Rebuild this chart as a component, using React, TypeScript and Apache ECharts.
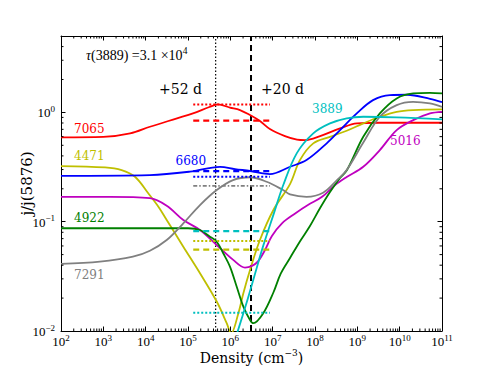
import React, { useEffect, useRef } from "react";
import * as echarts from "echarts";

// Axis ranges
const X_MIN = 1e2;
const X_MAX = 1e11;
const Y_MIN = 0.01;
const Y_MAX = 5;

// Model curves: [density (cm^-3), j/j(5876)]
const red7065: number[][] = [
  [1e2, 0.591], [1e3, 0.597], [4.3e3, 0.643], [1.26e4, 0.739], [5.5e4, 0.882],
  [1.31e5, 0.979], [3.2e5, 1.12], [5.1e5, 1.183], [9.8e5, 1.106], [1.69e6, 1.05], [2.92e6, 0.945],
  [5.0e6, 0.833], [8.6e6, 0.704], [1.95e7, 0.607], [3.76e7, 0.564], [5.8e7, 0.558],
  [1.32e8, 0.607], [3.9e8, 0.714], [9.8e8, 0.793], [3.4e9, 0.804], [1e11, 0.804],
];
const blue6680: number[][] = [
  [1e2, 0.263], [1.26e4, 0.267], [1.11e5, 0.287], [5.7e5, 0.318], [1.29e6, 0.303],
  [2.92e6, 0.291], [8.6e6, 0.273], [2.57e7, 0.318], [6.3e7, 0.366], [1.89e8, 0.521],
  [3.9e8, 0.689], [9.7e8, 0.979], [2.35e9, 1.295], [5.9e9, 1.44], [1.5e10, 1.45],
  [5.2e10, 1.33], [1e11, 1.24],
];
const grey7291: number[][] = [
  [1e2, 0.0411], [8.3e2, 0.0431], [5.0e3, 0.0479], [1.26e4, 0.0543], [3.14e4, 0.068],
  [7.75e4, 0.0967], [1.92e5, 0.142], [4.77e5, 0.195], [1.16e6, 0.2405], [2.92e6, 0.255],
  [7.2e6, 0.232], [1.76e7, 0.195], [2.57e7, 0.178], [6.3e7, 0.169], [1.55e8, 0.184],
  [3.3e8, 0.24], [5.6e8, 0.297], [1.36e9, 0.524], [3.4e9, 0.912], [8.5e9, 1.166],
  [2.07e10, 1.25], [5.2e10, 1.209], [1e11, 1.125],
];
const magenta5016: number[][] = [
  [1e2, 0.169], [1.45e3, 0.169], [1.26e4, 0.164], [3.14e4, 0.14], [7.75e4, 0.1036],
  [1.92e5, 0.0839], [4.77e5, 0.0612], [1.17e6, 0.0447], [2.22e6, 0.038], [3.25e6, 0.0394],
  [4.5e6, 0.0433], [6.6e6, 0.0551], [9.6e6, 0.074], [1.66e7, 0.0967], [3.4e7, 0.119],
  [6.8e7, 0.142], [1.47e8, 0.169], [2.97e8, 0.216], [5.6e8, 0.256], [1.38e9, 0.318],
  [3.4e9, 0.452], [8.5e9, 0.689], [2.09e10, 0.85], [5.2e10, 0.979], [1e11, 1.013],
];
const green4922: number[][] = [
  [1e2, 0.0871], [1e5, 0.0871], [1.92e5, 0.0839], [3.3e5, 0.0729], [4.77e5, 0.0656],
  [6.8e5, 0.0514], [9.8e5, 0.0388], [1.41e6, 0.0255], [2.03e6, 0.0167], [2.92e6, 0.01263],
  [3.49e6, 0.01178], [6.0e6, 0.01455], [1.04e7, 0.0225], [1.55e7, 0.0335], [2.57e7, 0.0466],
  [4.4e7, 0.066], [7.6e7, 0.0913], [1.32e8, 0.1334], [2.26e8, 0.1868], [3.9e8, 0.251],
  [5.7e8, 0.297], [1.38e9, 0.598], [3.4e9, 0.979], [8.5e9, 1.343], [2.09e10, 1.492],
  [5.2e10, 1.51], [1e11, 1.492],
];
const cyan3889: number[][] = [
  [1.1e6, 0.007], [1.55e6, 0.0104], [2.44e6, 0.0183], [3.49e6, 0.0295], [6.0e6, 0.0604],
  [1.04e7, 0.1155], [1.78e7, 0.2165], [3.7e7, 0.422], [9.1e7, 0.643], [2.26e8, 0.793],
  [5.6e8, 0.882], [1.38e9, 0.912], [8.5e9, 0.9], [1e11, 0.863],
];
const yellow4471: number[][] = [
  [1e2, 0.323], [1.1e3, 0.314], [2.7e3, 0.297], [5.6e3, 0.258], [1.15e4, 0.182],
  [2.0e4, 0.137], [3.14e4, 0.1036], [7.75e4, 0.0591], [1.92e5, 0.0338], [4.77e5, 0.0186],
  [8.2e5, 0.0118], [1.04e6, 0.0095], [1.55e6, 0.01455], [2.03e6, 0.0222], [2.92e6, 0.0362],
  [5.0e6, 0.068], [1.04e7, 0.128], [2.57e7, 0.221], [4.4e7, 0.366], [9.1e7, 0.521],
  [2.26e8, 0.598], [5.6e8, 0.679], [1.38e9, 0.793], [3.4e9, 0.912], [8.5e9, 1.013],
  [2.09e10, 1.05], [1e11, 1.065],
];

// Epoch markers (density) : +52 d dotted, +20 d dashed
const epoch52d = 4.5e5;
const epoch20d = 3.08e6;

// Observed ratio segments: density span and levels
const obsSpan = [1.33e5, 8.65e6];
const redObs = { dotted: 1.18, dashed: 0.84 };
const blueObs = { dotted: 0.258, dashed: 0.29 };
const greyObs = { dashdot: 0.213 };
const cyanObs = { dotted: 0.0147, dashed: 0.082 };
const yellowObs = { dotted: 0.0665, dashed: 0.0555 };

const C = {
  red: "#ff0000",
  blue: "#0000ff",
  green: "#008000",
  cyan: "#00bfbf",
  magenta: "#bf00bf",
  yellow: "#bfbf00",
  grey: "#808080",
};

const SERIF = '"DejaVu Serif", serif';
const TICKFONT = '"Liberation Serif", "DejaVu Serif", serif';

function minorTicks(lo: number, hi: number): number[] {
  const out: number[] = [];
  for (let e = Math.floor(Math.log10(lo)); e < Math.ceil(Math.log10(hi)); e++) {
    for (let m = 2; m <= 9; m++) {
      const v = m * Math.pow(10, e);
      if (v > lo && v < hi) out.push(v);
    }
  }
  return out;
}

const supRich = {
  b: { fontFamily: TICKFONT, fontSize: 13, lineHeight: 14, color: "#000", verticalAlign: "bottom" },
  s: { fontFamily: TICKFONT, fontSize: 9, lineHeight: 10, color: "#000", verticalAlign: "bottom", padding: [0, 0, 6, 0] },
};

function powLabel(v: number) {
  const e = Math.round(Math.log10(v));
  const es = e < 0 ? "\u2212" + Math.abs(e) : String(e);
  return "{b|10}{s|" + es + "}";
}

function curve(name: string, data: number[][], color: string) {
  return {
    name,
    type: "line",
    data,
    smooth: 0.35,
    showSymbol: false,
    symbol: "none",
    lineStyle: { color, width: 1.8 },
    z: 3,
  };
}

function seg(level: number, color: string, type: any, width = 2) {
  return {
    type: "line",
    data: [[obsSpan[0], level], [obsSpan[1], level]],
    showSymbol: false,
    symbol: "none",
    lineStyle: { color, width, type, cap: "butt" },
    z: 4,
  };
}

function vline(x: number, type: any, width: number) {
  return {
    type: "line",
    data: [[x, Y_MIN], [x, Y_MAX]],
    showSymbol: false,
    symbol: "none",
    lineStyle: { color: "#000", width, type, cap: "butt" },
    z: 2,
  };
}

function label(text: string, x: number, y: number, color: string, size = 12) {
  return {
    type: "text",
    x,
    y,
    z: 20,
    style: { text, fill: color, fontFamily: SERIF, fontSize: size, verticalAlign: "middle", align: "left" },
  };
}

export default function App() {
  const ref = useRef<HTMLDivElement>(null);
  useEffect(() => {
    if (!ref.current) return;
    const chart = echarts.init(ref.current, undefined, { renderer: "svg" });
    const xMinor = minorTicks(X_MIN, X_MAX);
    const yMinor = minorTicks(Y_MIN, Y_MAX);

    const axisCommon = {
      type: "log",
      logBase: 10,
      splitLine: { show: false },
      axisLine: { show: true, lineStyle: { color: "#000", width: 1 } },
      axisTick: { show: true, inside: true, length: 4.5, lineStyle: { color: "#000", width: 1 } },
    };

    const option: any = {
      animation: false,
      backgroundColor: "#fff",
      grid: { left: 61, right: 49, top: 36, bottom: 37, show: false },
      xAxis: [
        {
          ...axisCommon,
          position: "bottom",
          min: X_MIN,
          max: X_MAX,
          axisLabel: { formatter: powLabel, rich: supRich, margin: 3 },
        },
        {
          ...axisCommon,
          position: "top",
          min: X_MIN,
          max: X_MAX,
          axisLabel: { show: false },
        },
      ],
      yAxis: [
        {
          ...axisCommon,
          position: "left",
          min: Y_MIN,
          max: Y_MAX,
          axisLabel: { formatter: powLabel, rich: supRich, margin: 6, showMaxLabel: false },
          name: "j/j(5876)",
          nameLocation: "middle",
          nameGap: 27,
          nameMoveOverlap: false,
          nameTextStyle: { fontFamily: SERIF, fontSize: 15, color: "#000" },
        },
        {
          ...axisCommon,
          position: "right",
          min: Y_MIN,
          max: Y_MAX,
          axisLabel: { show: false },
        },
      ],
      series: [
        vline(epoch52d, [1.5, 2], 1.2),
        vline(epoch20d, [6, 4], 2),
        curve("7065", red7065, C.red),
        curve("4471", yellow4471, C.yellow),
        curve("6680", blue6680, C.blue),
        curve("5016", magenta5016, C.magenta),
        curve("4922", green4922, C.green),
        curve("7291", grey7291, C.grey),
        curve("3889", cyan3889, C.cyan),
        seg(redObs.dotted, C.red, [2, 2]),
        seg(redObs.dashed, C.red, [6, 4], 2.2),
        seg(blueObs.dotted, C.blue, [2, 2]),
        seg(blueObs.dashed, C.blue, [6, 4], 2.2),
        seg(greyObs.dashdot, C.grey, [4, 2, 1.5, 2], 1.8),
        seg(cyanObs.dotted, C.cyan, [2, 2]),
        seg(cyanObs.dashed, C.cyan, [6, 4], 2.2),
        seg(yellowObs.dotted, C.yellow, [2, 2]),
        seg(yellowObs.dashed, C.yellow, [6, 4], 2.2),
        {
          type: "custom",
          coordinateSystem: "cartesian2d",
          silent: true,
          clip: false,
          z: 10,
          encode: { x: 0, y: 1 },
          data: [
            ...xMinor.map((v) => [v, Y_MIN, 0]),
            ...yMinor.map((v) => [X_MIN, v, 1]),
          ],
          renderItem: (_p: any, api: any) => {
            const kind = api.value(2);
            const style = { stroke: "#000", lineWidth: 1 };
            const L = 2.5;
            if (kind === 0) {
              const v = api.value(0);
              const b = api.coord([v, Y_MIN]);
              const t = api.coord([v, Y_MAX]);
              return {
                type: "group",
                children: [
                  { type: "line", shape: { x1: b[0], y1: b[1], x2: b[0], y2: b[1] - L }, style },
                  { type: "line", shape: { x1: t[0], y1: t[1], x2: t[0], y2: t[1] + L }, style },
                ],
              };
            }
            const v = api.value(1);
            const l = api.coord([X_MIN, v]);
            const r = api.coord([X_MAX, v]);
            return {
              type: "group",
              children: [
                { type: "line", shape: { x1: l[0], y1: l[1], x2: l[0] + L, y2: l[1] }, style },
                { type: "line", shape: { x1: r[0], y1: r[1], x2: r[0] - L, y2: r[1] }, style },
              ],
            };
          },
        },
      ],
      graphic: [
        {
          type: "text",
          x: 86,
          y: 55,
          z: 20,
          style: {
            text: "{i|\u03c4}{n|(3889) =3.1 \u00d710}{s|4}",
            fill: "#000",
            verticalAlign: "middle",
            rich: {
              i: { fontFamily: TICKFONT, fontStyle: "italic", fontSize: 14, lineHeight: 15, verticalAlign: "bottom", fill: "#000" },
              n: { fontFamily: TICKFONT, fontSize: 14, lineHeight: 15, verticalAlign: "bottom", fill: "#000" },
              s: { fontFamily: TICKFONT, fontSize: 9.5, lineHeight: 10, verticalAlign: "bottom", padding: [0, 0, 7, 0], fill: "#000" },
            },
          },
        },
        {
          type: "text",
          x: 251.5,
          y: 357,
          z: 20,
          style: {
            text: "{n|Density (cm}{s|\u22123}{n|)}",
            fill: "#000",
            align: "center",
            verticalAlign: "middle",
            rich: {
              n: { fontFamily: SERIF, fontSize: 14, lineHeight: 16, verticalAlign: "bottom", fill: "#000" },
              s: { fontFamily: SERIF, fontSize: 9, lineHeight: 10, verticalAlign: "bottom", padding: [0, 0, 8, 0], fill: "#000" },
            },
          },
        },
        label("+52 d", 159, 89, "#000", 14),
        label("+20 d", 261, 89, "#000", 14),
        label("7065", 74, 128.5, C.red),
        label("4471", 74, 156, C.yellow),
        label("6680", 175.5, 161, C.blue),
        label("4922", 74, 217.5, C.green),
        label("7291", 74, 275, C.grey),
        label("3889", 312, 108.5, C.cyan),
        label("5016", 390, 141, C.magenta),
      ],
    };
    chart.setOption(option);
    return () => chart.dispose();
  }, []);
  return (
    <div
      ref={ref}
      style={{ position: "absolute", left: 0, top: 0, width: 491, height: 368, overflow: "hidden" }}
    />
  );
}
